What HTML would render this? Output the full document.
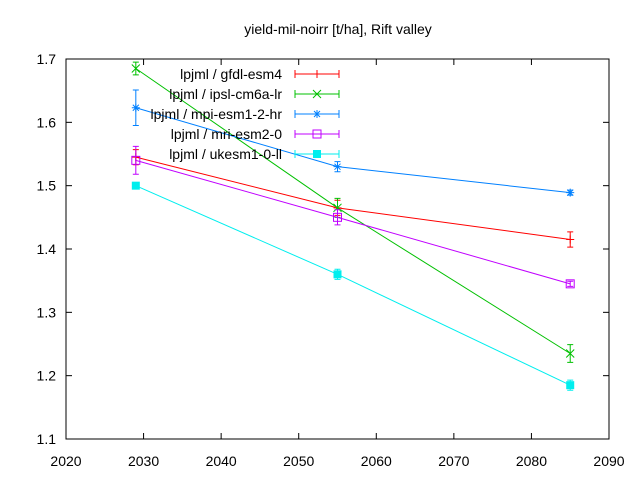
<!DOCTYPE html>
<html><head><meta charset="utf-8"><style>body{margin:0;background:#fff}svg{display:block;font-family:"Liberation Sans",sans-serif}</style></head>
<body>
<svg id="c" width="640" height="480"></svg>
<script>
const years=[2029,2055,2085];
const names=["lpjml / gfdl-esm4","lpjml / ipsl-cm6a-lr","lpjml / mpi-esm1-2-hr","lpjml / mri-esm2-0","lpjml / ukesm1-0-ll"];
const gfdl=[1.545,1.465,1.415];
const ipsl=[1.685,1.465,1.235];
const mpi=[1.623,1.530,1.489];
const mri=[1.540,1.450,1.345];
const ukesm=[1.500,1.360,1.185];
const gfdlErr=[0.012,0.012,0.012];
const ipslErr=[0.01,0.015,0.014];
const mpiErr=[0.028,0.008,0.004];
const mriErr=[0.022,0.012,0.004];
const ukesmErr=[0.005,0.008,0.008];
const xTicks=[2020,2030,2040,2050,2060,2070,2080,2090];
const yTicks=[1.1,1.2,1.3,1.4,1.5,1.6,1.7];
const colors=["#ff0000","#00c000","#0080ff","#c000ff","#00eeee"];
const markers=["plus","x","star","box","fbox"];
const L=66,R=609,T=59,B=439;
const X=v=>L+(v-2020)/70*(R-L);
const Y=v=>B-(v-1.1)/0.6*(B-T);
const svg=document.getElementById('c');const NS="http://www.w3.org/2000/svg";
function el(t,a,p){const e=document.createElementNS(NS,t);for(const k in a)e.setAttribute(k,a[k]);(p||svg).appendChild(e);return e;}
const t=el('text',{x:338,y:34,'text-anchor':'middle','font-size':14});t.textContent="yield-mil-noirr [t/ha], Rift valley";

const ax=el('rect',{x:L,y:T,width:R-L,height:B-T,fill:'none',stroke:'#000'});

xTicks.forEach(v=>{const x=X(v);el('line',{x1:x,x2:x,y1:B,y2:B-6,stroke:'#000'});el('line',{x1:x,x2:x,y1:T,y2:T+6,stroke:'#000'});
const s=el('text',{x:x,y:B+27,'text-anchor':'middle','font-size':14});s.textContent=v;});
yTicks.forEach(v=>{const y=Y(v);el('line',{x1:L,x2:L+6,y1:y,y2:y,stroke:'#000'});el('line',{x1:R,x2:R-6,y1:y,y2:y,stroke:'#000'});
const s=el('text',{x:L-10,y:y+5,'text-anchor':'end','font-size':14});s.textContent=v.toFixed(1);});
function marker(g,m,x,y,c){
 if(m=="plus"){el('path',{d:`M${x-4} ${y}h8M${x} ${y-4}v8`,stroke:c},g);}
 else if(m=="x"){el('path',{d:`M${x-4} ${y-4}l8 8M${x-4} ${y+4}l8 -8`,stroke:c},g);}
 else if(m=="star"){el('path',{d:`M${x-4} ${y}h8M${x} ${y-4}v8M${x-3} ${y-3}l6 6M${x-3} ${y+3}l6 -6`,stroke:c},g);}
 else if(m=="box"){el('rect',{x:x-4,y:y-4,width:8,height:8,fill:'none',stroke:c},g);}
 else el('rect',{x:x-4,y:y-4,width:8,height:8,fill:c},g);
}
const series=[gfdl,ipsl,mpi,mri,ukesm],errs=[gfdlErr,ipslErr,mpiErr,mriErr,ukesmErr];
series.forEach((s,i)=>{const c=colors[i];const g=el('g',{});

el('polyline',{points:s.map((v,j)=>X(years[j])+','+Y(v)).join(' '),fill:'none',stroke:c},g);
s.forEach((v,j)=>{const x=X(years[j]),e=errs[i][j];el('path',{d:`M${x} ${Y(v-e)}V${Y(v+e)}M${x-3} ${Y(v-e)}h6M${x-3} ${Y(v+e)}h6`,stroke:c,fill:'none'},g);marker(g,markers[i],x,Y(v),c);});
const ly=74+i*20;const lg=el('g',{});
const lt=el('text',{x:282,y:ly+5,'text-anchor':'end','font-size':14},lg);lt.textContent=names[i];
el('path',{d:`M295 ${ly}h44M295 ${ly-4}v8M339 ${ly-4}v8`,stroke:c},lg);marker(lg,markers[i],317,ly,c);
});
</script>
</body></html>
